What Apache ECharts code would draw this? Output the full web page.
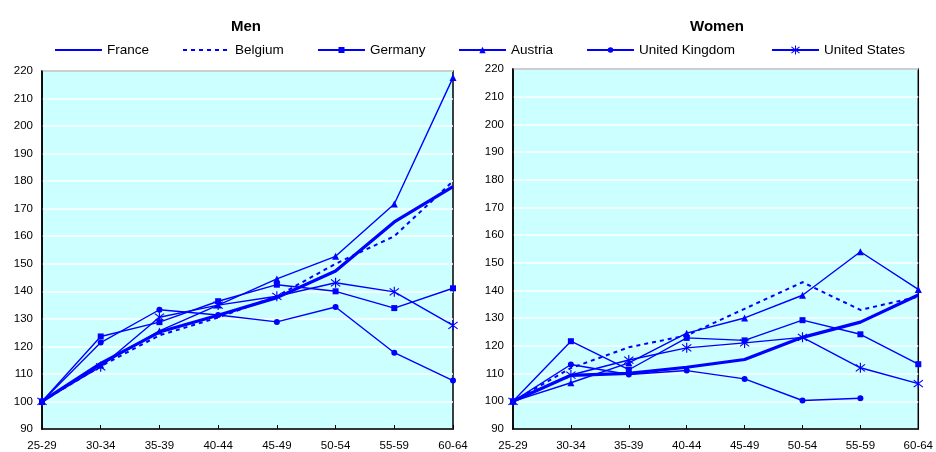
<!DOCTYPE html>
<html>
<head>
<meta charset="utf-8">
<script src="https://cdn.jsdelivr.net/npm/echarts@6/dist/echarts.min.js"></script>
<style>
  html, body { margin: 0; padding: 0; background: #fff; }
  #chart { width: 936px; height: 452px; }
</style>
</head>
<body>
<div id="chart"></div>
<script>
// Age groups along the horizontal axis
var ageGroups = ['25-29', '30-34', '35-39', '40-44', '45-49', '50-54', '55-59', '60-64'];

// Vertical axis range and step
var yMin = 90, yMax = 220, yStep = 10;

// Men: index (25-29 = 100)
var menFrance  = [100, 113.8, 125.2, 131.3, 137.7, 147.4, 165.2, 178.0];
var menBelgium = [100, 112.8, 124.0, 130.5, 138.2, 150.0, 160.0, 180.0];
var menGermany = [100, 123.6, 128.8, 136.4, 142.4, 140.0, 133.9, 141.1];
var menAustria = [100, 113.2, 125.6, 135.0, 144.5, 152.7, 171.7, 217.6];
var menUK      = [100, 121.4, 133.3, 131.4, 128.9, 134.3, 117.7, 107.6];
var menUS      = [100, 112.6, 130.6, 135.0, 138.2, 143.1, 139.8, 127.6];

// Women: index (25-29 = 100)
var womenFrance  = [100, 109.4, 110.1, 112.3, 115.1, 123.1, 128.6, 138.4];
var womenBelgium = [100, 112.0, 119.5, 123.8, 133.4, 143.0, 133.0, 137.8];
var womenGermany = [100, 121.7, 111.4, 122.9, 122.0, 129.3, 124.2, 113.4];
var womenAustria = [100, 106.7, 113.9, 124.6, 130.1, 138.3, 154.0, 140.4];
var womenUK      = [100, 113.3, 109.7, 111.1, 108.1, 100.3, 101.1, null];
var womenUS      = [100, 109.5, 114.9, 119.3, 121.1, 123.1, 112.1, 106.4];

var countryNames = ['France', 'Belgium', 'Germany', 'Austria', 'United Kingdom', 'United States'];
var panelTitles = ['Men', 'Women'];

var BLUE = '#0000FF';
var FONT = 'Liberation Sans, Arial, sans-serif';

// Asterisk marker: vertical bar plus two diagonals
var asterisk = 'path://M9,0L11,0L11,20L9,20Z' +
  'M2.66,2.25L18.66,16.25L17.34,17.75L1.34,3.75Z' +
  'M17.34,2.25L18.66,3.75L2.66,17.75L1.34,16.25Z';

// Line and marker style per country (legendH sets the legend marker size)
var styles = {
  'France':         { width: 3.2, type: 'solid', symbol: 'none', size: 0, legendH: 8 },
  'Belgium':        { width: 2, type: [4, 4], symbol: 'none', size: 0, legendH: 8 },
  'Germany':        { width: 1.4, type: 'solid', symbol: 'rect', size: 6, legendH: 7.5 },
  'Austria':        { width: 1.4, type: 'solid', symbol: 'triangle', size: 7, legendH: 8 },
  'United Kingdom': { width: 1.4, type: 'solid', symbol: 'circle', size: 6, legendH: 7 },
  'United States':  { width: 1.4, type: 'solid', symbol: asterisk, size: 10, legendH: 11 }
};

function makeSeries(name, data, idx) {
  var s = styles[name];
  return {
    name: name,
    type: 'line',
    xAxisIndex: idx,
    yAxisIndex: idx,
    data: data,
    symbol: s.symbol,
    symbolSize: s.size,
    showSymbol: s.symbol !== 'none',
    connectNulls: false,
    animation: false,
    z: name === 'France' ? 5 : 3,
    lineStyle: { color: BLUE, width: s.width, type: s.type },
    itemStyle: { color: BLUE },
    emphasis: { disabled: true }
  };
}

var grids = [
  { left: 42, top: 71, width: 411, height: 358 },
  { left: 513, top: 69, width: 407, height: 360 }
];

function xAxisFor(i) {
  return {
    type: 'category',
    gridIndex: i,
    data: ageGroups,
    boundaryGap: false,
    axisLine: { lineStyle: { color: '#000', width: 1.5 } },
    axisTick: { inside: true, length: 4, lineStyle: { color: '#000' } },
    axisLabel: { color: '#000', fontFamily: FONT, fontSize: 11.5, margin: 11 },
    splitLine: { show: false }
  };
}

function yAxisFor(i) {
  return {
    type: 'value',
    gridIndex: i,
    min: yMin,
    max: yMax,
    interval: yStep,
    axisLine: { show: true, lineStyle: { color: '#000', width: 1.5 } },
    axisTick: { show: false },
    axisLabel: { color: '#000', fontFamily: FONT, fontSize: 11.5, margin: 9 },
    splitLine: { show: true, lineStyle: { color: '#FFFFFF', width: 1.5 } }
  };
}

// One legend entry per country, placed along the top row
var legendLefts = [54, 182, 317, 458, 586, 771];
var legends = countryNames.map(function (n, k) {
  var s = styles[n];
  return {
    data: [n],
    left: legendLefts[k],
    top: 43,
    padding: 0,
    itemWidth: 47,
    itemHeight: s.legendH,
    itemGap: 0,
    itemStyle: s.symbol === 'none' ? { opacity: 0 } : {},
    textStyle: { color: '#000', fontFamily: FONT, fontSize: 13.5 },
    selectedMode: false
  };
});

var menData = [menFrance, menBelgium, menGermany, menAustria, menUK, menUS];
var womenData = [womenFrance, womenBelgium, womenGermany, womenAustria, womenUK, womenUS];

var series = [];
countryNames.forEach(function (n, k) { series.push(makeSeries(n, menData[k], 0)); });
countryNames.forEach(function (n, k) { series.push(makeSeries(n, womenData[k], 1)); });

var option = {
  backgroundColor: '#FFFFFF',
  animation: false,
  title: [
    { text: panelTitles[0], left: 241, top: 14, textAlign: 'center',
      textStyle: { fontFamily: FONT, fontSize: 15, fontWeight: 'bold', color: '#000' } },
    { text: panelTitles[1], left: 712, top: 14, textAlign: 'center',
      textStyle: { fontFamily: FONT, fontSize: 15, fontWeight: 'bold', color: '#000' } }
  ],
  legend: legends,
  grid: grids.map(function (g) {
    return Object.assign({ show: true, backgroundColor: '#CCFFFF', borderColor: '#000', borderWidth: 1.5 }, g);
  }),
  xAxis: [xAxisFor(0), xAxisFor(1)],
  yAxis: [yAxisFor(0), yAxisFor(1)],
  series: series
};

var chart = echarts.init(document.getElementById('chart'), null, { renderer: 'canvas' });
chart.setOption(option);
</script>
</body>
</html>
